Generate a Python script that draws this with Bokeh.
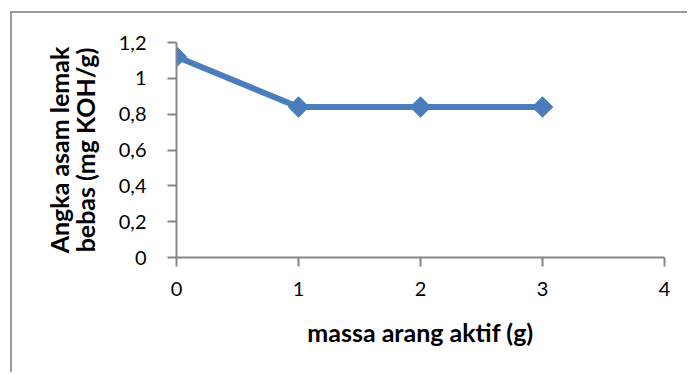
from bokeh.plotting import figure
from bokeh.models import FixedTicker, ColumnDataSource, LinearAxis
from bokeh.embed import file_html
from bokeh.resources import INLINE
import math

# activated charcoal mass (g) vs free fatty acid number (mg KOH/g)
massa = [0, 1, 2, 3]
angka_asam = [1.12, 0.84, 0.84, 0.84]

x_ticks = [0, 1, 2, 3, 4]
y_ticks = [0, 0.2, 0.4, 0.6, 0.8, 1.0, 1.2]
y_tick_labels = ["0", "0,2", "0,4", "0,6", "0,8", "1", "1,2"]
y_title_lines = ["Angka asam lemak", "bebas (mg KOH/g)"]

FONT = "Lato"
AXIS = "#868686"
SERIES = "#4a7ebb"
EDGE = "#9a9a9a"

# the figure sits inside a chart-area border drawn on its host element
p = figure(width=677, height=361, output_backend="svg", toolbar_location=None,
           x_range=(0, 4), y_range=(0, 1.2),
           min_border_left=164, min_border_right=25,
           min_border_top=29, min_border_bottom=117)
p.styles = {"margin-left": "10px", "margin-top": "11px",
            "border-left": f"2px solid {EDGE}", "border-top": f"2px solid {EDGE}"}

p.outline_line_color = None
p.xgrid.visible = False
p.ygrid.visible = False
p.background_fill_color = "white"
p.border_fill_color = "white"

src = ColumnDataSource(dict(x=massa, y=angka_asam))
p.line("x", "y", source=src, line_color=SERIES, line_width=6)
p.scatter("x", "y", source=src, marker="square", size=14.5, angle=math.pi / 4,
          fill_color=SERIES, line_color=SERIES)


def style_title(ax):
    ax.axis_label_text_font = FONT
    ax.axis_label_text_font_style = "bold"
    ax.axis_label_text_font_size = "25px"
    ax.axis_label_text_color = "black"


for ax in (p.xaxis[0], p.yaxis[0]):
    ax.axis_line_color = AXIS
    ax.axis_line_width = 2
    ax.major_tick_line_color = AXIS
    ax.major_tick_line_width = 2
    ax.major_tick_in = 0
    ax.major_tick_out = 9
    ax.minor_tick_line_color = None
    ax.major_label_text_font = FONT
    ax.major_label_text_font_size = "20px"
    ax.major_label_text_color = "black"
    style_title(ax)

p.xaxis.ticker = FixedTicker(ticks=x_ticks)
p.yaxis.ticker = FixedTicker(ticks=y_ticks)
p.yaxis.major_label_overrides = {t: l for t, l in zip(y_ticks, y_tick_labels)}
p.xaxis.major_label_standoff = 15
p.yaxis.major_label_standoff = 21

p.xaxis.axis_label = "massa arang aktif (g)"
p.xaxis.axis_label_standoff = 18

# two-line y title: inner line on the tick axis, outer line on a bare axis
p.yaxis.axis_label = y_title_lines[1]
p.yaxis.axis_label_standoff = 16

outer = LinearAxis(ticker=FixedTicker(ticks=[]), axis_line_color=None,
                   major_tick_line_color=None, minor_tick_line_color=None,
                   major_tick_in=0, major_tick_out=0, major_label_standoff=0,
                   axis_label=y_title_lines[0], axis_label_standoff=-7)
style_title(outer)
p.add_layout(outer, "left")

open("out.html", "w").write(file_html(p, INLINE))
